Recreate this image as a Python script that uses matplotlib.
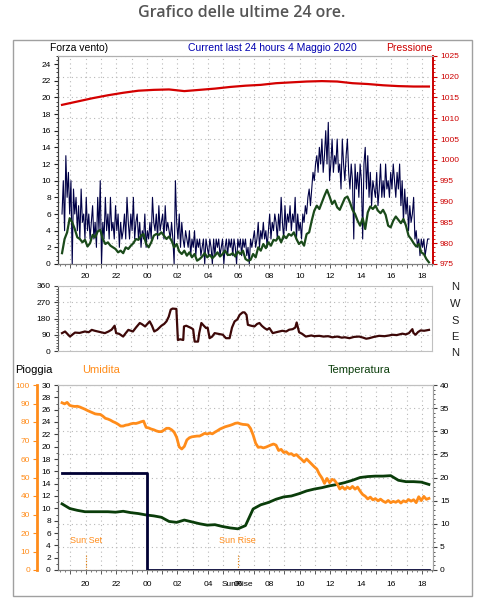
import matplotlib
matplotlib.use('Agg')
import matplotlib.pyplot as plt
import matplotlib.dates as mdates
from matplotlib.ticker import MultipleLocator, FuncFormatter
from matplotlib.patches import Rectangle
import pandas as pd

plt.rcParams['font.family'] = ['Liberation Sans', 'DejaVu Sans']

# ---- data -------------------------------------------------------------
start = '2020-05-03 18:27'

# wind gust (5 min) and average wind (10 min)
gust = [
    6, 10, 4, 13, 8, 11, 6, 10, 0, 9, 6, 8,
    4, 7, 3, 9, 5, 6, 3, 8, 4, 6, 3, 5,
    7, 3, 5, 2, 8, 4, 10, 0, 5, 3, 8, 4,
    6, 3, 8, 4, 5, 3, 7, 4, 6, 2, 5, 3,
    4, 6, 3, 8, 5, 3, 6, 4, 8, 3, 5, 6,
    3, 5, 2, 4, 3, 6, 2, 4, 3, 5, 3, 8,
    5, 4, 6, 3, 7, 4, 5, 6, 3, 7, 4, 5,
    4, 3, 5, 3, 0, 10, 5, 3, 6, 2, 5, 3,
    2, 4, 3, 2, 4, 1, 3, 2, 4, 1, 3, 2,
    3, 1, 2, 3, 0, 3, 2, 1, 3, 2, 0, 3,
    1, 3, 2, 3, 1, 2, 3, 0, 2, 3, 1, 3,
    2, 3, 1, 3, 2, 0, 3, 2, 3, 1, 3, 2,
    3, 1, 2, 0, 3, 2, 3, 4, 2, 3, 5, 2,
    4, 3, 5, 3, 4, 2, 4, 6, 3, 5, 4, 6,
    5, 3, 6, 4, 8, 5, 3, 7, 4, 6, 5, 7,
    4, 6, 5, 8, 3, 6, 4, 5, 3, 6, 5, 7,
    6, 8, 9, 7, 9, 11, 10, 12, 13, 11, 14, 12,
    15, 11, 13, 16, 12, 17, 10, 12, 15, 11, 13, 12,
    15, 11, 12, 9, 15, 12, 10, 13, 15, 11, 9, 12,
    10, 3, 12, 9, 11, 8, 12, 10, 3, 12, 14, 9,
    13, 8, 11, 7, 10, 9, 8, 11, 7, 9, 12, 8,
    10, 8, 12, 9, 10, 8, 11, 9, 12, 10, 8, 11,
    9, 12, 7, 10, 5, 9, 6, 8, 4, 7, 5, 6,
    8, 3, 4, 2, 3, 1, 3, 2, 3, 1, 2, 3,
    3]
avg = [
    1.3, 3.0, 3.8, 5.5, 5.0, 4.2,
    3.2, 3.0, 2.6, 2.9, 2.1, 2.5,
    3.5, 3.2, 3.9, 4.1, 3.0, 2.4,
    2.6, 2.2, 2.0, 1.8, 1.4, 1.6,
    1.3, 2.0, 1.8, 2.2, 2.5, 3.0,
    2.9, 3.4, 3.6, 2.4, 2.0, 2.6,
    3.4, 3.6, 3.5, 3.8, 3.4, 3.0,
    3.3, 2.8, 2.0, 2.4, 1.5, 1.2,
    1.6, 1.0, 1.4, 0.8, 1.2, 0.4,
    0.6, 0.9, 1.3, 0.8, 1.1, 0.7,
    1.0, 1.4, 0.9, 1.2, 1.6, 1.1,
    1.1, 1.3, 0.9, 1.5, 1.2, 1.6,
    0.6, 0.4, 0.5, 1.2, 0.8, 2.0,
    1.6, 2.4, 1.9, 2.6, 2.2, 2.9,
    2.8, 3.3, 2.6, 3.4, 3.1, 3.6,
    3.4, 3.8, 3.0, 2.4, 2.7, 2.2,
    3.6, 3.8, 5.2, 6.4, 7.0, 6.6,
    7.4, 8.2, 8.9, 8.1, 7.2, 7.6,
    6.8, 6.5, 7.2, 7.9, 8.1, 7.4,
    6.5, 6.0, 5.2, 4.6, 5.5, 4.2,
    6.2, 6.9, 6.6, 7.0, 6.4, 6.1,
    6.5, 5.9, 4.6, 4.4, 5.2, 5.7,
    5.3, 4.9, 5.4, 4.6, 3.4, 3.0,
    2.5, 2.1, 2.4, 1.4, 1.2, 0.6,
    0.2]

# pressure (hourly, hPa)
pressure = [1013.2, 1014.0, 1014.8, 1015.5, 1016.1, 1016.6, 1016.8, 1016.9,
            1016.5, 1016.8, 1017.1, 1017.5, 1017.8, 1018.0, 1018.4, 1018.6,
            1018.8, 1018.9, 1018.8, 1018.4, 1018.2, 1017.9, 1017.7, 1017.6,
            1017.6]

# wind direction (hour since 3 May 00:00, degrees)
dir_hours = [18.45, 18.65, 18.97, 19.3, 19.6, 19.95, 20.2, 20.4, 20.6, 20.8,
             21.0, 21.26, 21.5, 21.7, 21.9, 22.0, 22.2, 22.46, 22.6, 22.8,
             23.1, 23.3, 23.55, 23.7, 23.9, 24.05, 24.2, 24.35, 24.5, 24.7,
             24.97, 25.15, 25.3, 25.45, 25.58, 25.7, 25.95, 26.05, 26.2, 26.4,
             26.45, 26.6, 26.93, 27.05, 27.15, 27.37, 27.45, 27.59, 27.75, 27.9,
             28.0, 28.13, 28.3, 28.46, 28.7, 29.0, 29.2, 29.44, 29.6, 29.77,
             29.95, 30.1, 30.3, 30.42, 30.55, 30.64, 30.85, 31.07, 31.25, 31.4,
             31.55, 31.73, 31.9, 32.05, 32.27, 32.5, 32.7, 32.9, 33.15, 33.35,
             33.58, 33.75, 33.84, 34.0, 34.2, 34.44, 34.8, 35.0, 35.32, 35.6,
             35.9, 36.18, 36.5, 36.8, 37.0, 37.3, 37.6, 37.94, 38.2, 38.4,
             38.6, 38.9, 39.25, 39.6, 39.9, 40.12, 40.4, 40.77, 41.0, 41.2,
             41.43, 41.5, 41.64, 41.8, 41.97, 42.2, 42.52]
dir_values = [99, 108, 80, 102, 100, 108, 104, 117, 112, 108,
              104, 99, 108, 118, 140, 99, 95, 80, 96, 117,
              108, 130, 155, 148, 136, 150, 164, 140, 108, 118,
              140, 150, 164, 190, 229, 235, 233, 61, 65, 61,
              136, 140, 127, 120, 52, 52, 100, 155, 140, 127,
              130, 71, 80, 99, 95, 90, 71, 71, 130, 164,
              175, 200, 214, 214, 200, 145, 140, 136, 150, 155,
              140, 127, 118, 127, 99, 104, 108, 112, 108, 118,
              121, 130, 158, 104, 95, 80, 86, 82, 84, 80,
              82, 76, 80, 74, 76, 71, 78, 80, 74, 68,
              71, 78, 84, 82, 86, 90, 88, 96, 92, 99,
              121, 100, 90, 105, 114, 112, 117]

# humidity (10 min, %)
humidity = [
    90.4, 89.8, 90.6, 89.0, 88.6, 88.4,
    88.5, 88.1, 87.5, 86.9, 86.2, 85.6,
    85.0, 84.4, 84.2, 84.1, 83.2, 82.0,
    81.6, 81.0, 80.2, 79.6, 78.8, 77.8,
    77.8, 78.3, 78.5, 79.0, 79.3, 79.2,
    79.6, 80.1, 80.5, 77.1, 76.8, 76.2,
    75.8, 75.2, 74.8, 74.8, 75.6, 76.6,
    76.6, 75.8, 74.5, 71.7, 66.5, 65.4,
    66.8, 70.3, 71.5, 72.0, 72.2, 72.4,
    72.4, 73.1, 73.9, 73.5, 74.0, 73.6,
    74.5, 75.3, 76.2, 76.8, 77.4, 77.8,
    78.2, 78.7, 79.3, 79.5, 79.0, 78.7,
    78.6, 78.4, 76.5, 73.0, 68.5, 66.3,
    66.5, 66.0, 66.4, 67.0, 67.6, 68.1,
    67.5, 64.6, 65.2, 63.5, 63.9, 62.6,
    62.9, 61.8, 62.4, 61.0, 59.8, 58.4,
    60.0, 58.6, 57.2, 55.8, 54.6, 51.8,
    49.8, 46.8, 49.5, 47.2, 49.0, 48.4,
    46.5, 43.8, 45.0, 43.6, 44.8, 43.9,
    45.2, 43.7, 44.8, 42.6, 40.8, 39.9,
    38.4, 39.4, 37.9, 38.6, 37.4, 38.3,
    37.2, 36.5, 37.6, 36.4, 37.1, 36.6,
    37.5, 36.2, 37.4, 36.8, 38.1, 37.2,
    38.0, 36.4, 39.6, 37.5, 39.8, 38.2,
    38.7]

# temperature (30 min, C)
temperature = [14.3, 13.3, 12.9, 12.6, 12.6, 12.6, 12.6, 12.5, 12.7, 12.4,
               12.2, 11.9, 11.7, 11.4, 10.5, 10.3, 10.8, 10.4, 10.0, 9.7,
               9.8, 9.4, 9.1, 8.9, 9.6, 13.2, 14.1, 14.6, 15.3, 15.8,
               16.0, 16.5, 17.1, 17.5, 17.8, 18.2, 18.5, 18.9, 19.4, 20.0,
               20.2, 20.3, 20.3, 20.4, 19.4, 19.1, 19.1, 19.0, 18.5]

# rain counter (mm), reset at midnight
rain_times = ['2020-05-03 18:27', '2020-05-04 00:00', '2020-05-04 18:27']
rain = [15.8, 0.0, 0.0]

sun_set = '2020-05-03 20:02'
sun_rise = '2020-05-04 05:56'

# ---- helpers ----------------------------------------------------------
W, H = 490, 611
day0 = pd.Timestamp('2020-05-03')
x_lo, x_hi = pd.Timestamp('2020-05-03 18:10'), pd.Timestamp('2020-05-04 18:43')


def box(x0, y0, x1, y1):
    return [x0 / W, 1 - y1 / H, (x1 - x0) / W, (y1 - y0) / H]


def fx(x):
    return x / W


def fy(y):
    return 1 - y / H


grid_kw = dict(color='#b8b8b8', linestyle=(0, (1, 3)), linewidth=0.8)
tick_fs = 6


def even_hour(v, pos):
    d = mdates.num2date(v)
    return '%02d' % d.hour if d.hour % 2 == 0 and d.minute == 0 else ''


def time_axis(ax, labels=True, pad=3):
    ax.set_xlim(x_lo, x_hi)
    ax.xaxis.set_major_locator(mdates.HourLocator())
    ax.xaxis.set_minor_locator(mdates.MinuteLocator(byminute=[20, 40]))
    ax.xaxis.set_major_formatter(FuncFormatter(even_hour) if labels else FuncFormatter(lambda v, p: ''))
    ax.tick_params(axis='x', which='major', length=3, width=0.6, labelsize=tick_fs, pad=pad,
                   color='#404040', bottom=labels)
    ax.tick_params(axis='x', which='minor', length=1.5, width=0.5, color='#404040', bottom=labels)
    ax.grid(axis='x', which='major', **grid_kw)


gust_t = pd.date_range(start, periods=len(gust), freq='5min')
avg_t = pd.date_range(start, periods=len(avg), freq='10min')
pres_t = pd.date_range(start, periods=len(pressure), freq='h')
hum_t = pd.date_range(start, periods=len(humidity), freq='10min')
temp_t = pd.date_range(start, periods=len(temperature), freq='30min')
dir_t = day0 + pd.to_timedelta(dir_hours, unit='h')

fig = plt.figure(figsize=(W / 100, H / 100), dpi=100)
fig.patches.append(Rectangle((fx(13), fy(596)), fx(472) - fx(13), fy(40) - fy(596),
                             transform=fig.transFigure, fill=False,
                             edgecolor='#a0a0a0', linewidth=1))
fig.text(fx(242), fy(13), 'Grafico delle ultime 24 ore.', ha='center', va='center',
         fontsize=11.5, color='#555555', family=['Open Sans', 'DejaVu Sans'], weight='semibold')

# ---- top panel: wind + pressure -------------------------------------
axp = fig.add_axes(box(57.7, 55.7, 433, 264))
axw = axp.twinx()
axp.set_zorder(0)
axw.set_zorder(1)
axw.patch.set_visible(False)

axp.plot(pres_t, pressure, color='#d40000', linewidth=1.6)
axp.set_ylim(975, 1025)
axp.yaxis.set_major_locator(MultipleLocator(5))
axp.yaxis.set_minor_locator(MultipleLocator(1))
axp.yaxis.tick_right()
axp.tick_params(axis='y', which='major', length=3, color='#cc0000', labelcolor='#cc0000',
                labelsize=tick_fs, pad=2)
axp.tick_params(axis='y', which='minor', length=1.5, color='#cc0000')
axp.grid(axis='y', which='major', **grid_kw)
time_axis(axp, pad=3.5)

axw.plot(gust_t, gust, color='#000046', linewidth=0.8)
axw.plot(avg_t, avg, color='#1a4a1a', linewidth=1.6)
axw.set_ylim(0, 25)
axw.yaxis.tick_left()
axw.yaxis.set_major_locator(MultipleLocator(2))
axw.yaxis.set_minor_locator(MultipleLocator(0.5))
axw.tick_params(axis='y', which='major', length=3, color='#202020', labelsize=tick_fs, pad=2)
axw.tick_params(axis='y', which='minor', length=1.5, color='#202020')
axw.set_xlim(x_lo, x_hi)

for a in (axp, axw):
    a.spines['top'].set_color('#b0b0b0')
    a.spines['bottom'].set_color('#808080')
    a.spines['left'].set_color('#404040')
    a.spines['right'].set_color('#cc0000')
    a.spines['right'].set_linewidth(1.2)

fig.text(fx(50), fy(48), 'Forza vento)', fontsize=7.5, va='center', ha='left', color='black')
fig.text(fx(272), fy(48), 'Current last 24 hours 4 Maggio 2020', fontsize=7.5, va='center',
         ha='center', color='#0000b0')
fig.text(fx(386), fy(48), 'Pressione', fontsize=7.5, va='center', ha='left', color='#cc0000')

# ---- middle panel: wind direction -----------------------------------
axd = fig.add_axes(box(57.7, 286, 432, 351))
axd.plot(dir_t, dir_values, color='#3d0808', linewidth=1.6)
axd.set_ylim(0, 360)
axd.yaxis.set_major_locator(MultipleLocator(90))
axd.yaxis.set_minor_locator(MultipleLocator(15))
axd.tick_params(axis='y', which='major', length=3, color='#404040', labelsize=tick_fs, pad=2)
axd.tick_params(axis='y', which='minor', length=1.5, color='#404040')
axd.grid(axis='y', which='major', **grid_kw)
time_axis(axd, labels=False)
for s in ('top', 'right', 'bottom'):
    axd.spines[s].set_color('#c0c0c0')
axd.spines['left'].set_color('#606060')
for name, y in zip(['N', 'W', 'S', 'E', 'N'], [287, 304, 321, 337, 353]):
    fig.text(fx(455), fy(y), name, fontsize=8, ha='center', va='center', color='#202020')

# ---- bottom panel: rain, humidity, temperature ------------------------
bb = box(57.7, 385, 433, 570)
axt = fig.add_axes(bb)
axr = axt.twinx()
axh = axt.twinx()
axt.set_zorder(0)
axr.set_zorder(1)
axh.set_zorder(2)
axr.patch.set_visible(False)
axh.patch.set_visible(False)

bottom_pad = 5
axt.plot(temp_t, temperature, color='#0a3d0a', linewidth=2)
axt.set_ylim(0, 40)
axt.yaxis.tick_right()
axt.yaxis.set_major_locator(MultipleLocator(5))
axt.yaxis.set_minor_locator(MultipleLocator(1))
axt.tick_params(axis='y', which='major', length=3, color='#404040', labelsize=tick_fs, pad=2)
axt.tick_params(axis='y', which='minor', length=1.5, color='#404040')
axt.grid(axis='y', which='major', **grid_kw)
time_axis(axt, pad=bottom_pad)

axr.plot(pd.to_datetime(rain_times), rain, color='#000033', linewidth=2, drawstyle='steps-post')
axr.set_ylim(0, 30)
axr.yaxis.tick_left()
axr.yaxis.set_major_locator(MultipleLocator(2))
axr.yaxis.set_minor_locator(MultipleLocator(1))
axr.tick_params(axis='y', which='major', length=3, color='#404040', labelsize=tick_fs, pad=2)
axr.tick_params(axis='y', which='minor', length=1.5, color='#404040')
axr.set_xlim(x_lo, x_hi)

axh.plot(hum_t, humidity, color='#ff8c1a', linewidth=2)
axh.set_ylim(0, 100)
axh.yaxis.tick_left()
axh.spines['left'].set_position(('outward', 15))
axh.spines['left'].set_visible(True)
axh.spines['left'].set_color('#ff8c1a')
axh.spines['left'].set_linewidth(2)
axh.yaxis.set_major_locator(MultipleLocator(10))
axh.tick_params(axis='y', which='major', length=3, color='#ff8c1a', labelcolor='#ff8c1a',
                labelsize=tick_fs, pad=2)
axh.set_xlim(x_lo, x_hi)
for s in ('top', 'right', 'bottom'):
    axh.spines[s].set_visible(False)

for a in (axt, axr):
    a.spines['top'].set_color('#c0c0c0')
    a.spines['right'].set_color('#a0a0a0')
    a.spines['bottom'].set_color('#808080')
    a.spines['left'].set_color('#606060')

# sun set / sun rise markers
for when, label in [(sun_set, 'Sun Set'), (sun_rise, 'Sun Rise')]:
    t = pd.Timestamp(when)
    axt.axvline(t, ymin=0, ymax=0.08, color='#e07800', linestyle=(0, (1, 1.5)), linewidth=0.8)
    axt.text(t, 6.3, label, fontsize=6.5, color='#ff8c1a', ha='center', va='center')
axt.annotate('SunRise', xy=(mdates.date2num(pd.Timestamp(sun_rise)), 0),
             xycoords=axt.get_xaxis_transform(),
             xytext=(0, -(3 + bottom_pad)), textcoords='offset points',
             fontsize=tick_fs, ha='center', va='top', color='black')

fig.text(fx(15), fy(370), 'Pioggia', fontsize=8, va='center', ha='left', color='black')
fig.text(fx(82), fy(370), 'Umidita', fontsize=8, va='center', ha='left', color='#ff8c1a')
fig.text(fx(328), fy(370), 'Temperatura', fontsize=8, va='center', ha='left', color='#0a3d0a')

fig.savefig('out.png', dpi=100)
